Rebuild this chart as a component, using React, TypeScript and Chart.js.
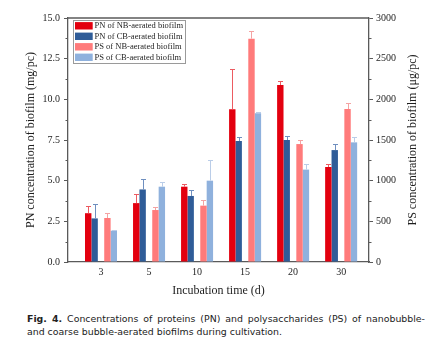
import React, { useEffect, useRef } from 'react';
import { Chart, registerables } from 'chart.js';

Chart.register(...registerables);

// ---- data ----
const categories = ['3', '5', '10', '15', '20', '30'];
const pnNB = [3.0, 3.62, 4.63, 9.39, 10.88, 5.84];
const pnNBErr = [0.42, 0.54, 0.17, 2.47, 0.25, 0.16];
const pnCB = [2.68, 4.46, 4.06, 7.44, 7.5, 6.88];
const pnCBErr = [0.91, 0.62, 0.37, 0.27, 0.27, 0.35];
const psNB = [541, 639, 693, 2746, 1450, 1880];
const psNBErr = [66, 41, 73, 90, 54, 70];
const psCB = [385, 926, 1000, 1828, 1136, 1471];
const psCBErr = [6, 62, 250, 16, 65, 70];
const seriesLabels = [
  'PN of NB-aerated biofilm',
  'PN of CB-aerated biofilm',
  'PS of NB-aerated biofilm',
  'PS of CB-aerated biofilm',
];
const leftTicks = [0, 2.5, 5, 7.5, 10, 12.5, 15];
const rightTicks = [0, 500, 1000, 1500, 2000, 2500, 3000];

const W = 443;
const H = 300;
const SERIF = "'Liberation Serif', 'Times New Roman', serif";
const AXIS = '#5a5a5a';
const TEXT = '#1e1e1e';

export default function App() {
  const ref = useRef<HTMLCanvasElement>(null);

  useEffect(() => {
    const canvas = ref.current;
    if (!canvas) return;

    const series = [
      { label: seriesLabels[0], values: pnNB, err: pnNBErr, axis: 'y', color: '#E3000F', errColor: '#EC5B61' },
      { label: seriesLabels[1], values: pnCB, err: pnCBErr, axis: 'y', color: '#2F5C98', errColor: '#6F8FBF' },
      { label: '', values: categories.map(() => null as any), err: null, axis: 'y', color: 'rgba(0,0,0,0)', errColor: '' },
      { label: seriesLabels[2], values: psNB, err: psNBErr, axis: 'y2', color: '#FF7B7B', errColor: '#F4A3A3' },
      { label: seriesLabels[3], values: psCB, err: psCBErr, axis: 'y2', color: '#8FB1DD', errColor: '#BACDE8' },
    ];

    const errorPlugin = {
      id: 'errorBars',
      afterDatasetsDraw(chart: any) {
        const c = chart.ctx;
        c.save();
        series.forEach((s, di) => {
          if (!s.err) return;
          const meta = chart.getDatasetMeta(di);
          const sc = chart.scales[s.axis];
          meta.data.forEach((bar: any, i: number) => {
            const v = s.values[i];
            const e = s.err![i];
            const x = Math.round(bar.x) + 0.5;
            const y0 = sc.getPixelForValue(v);
            const y1 = Math.round(sc.getPixelForValue(v + e)) + 0.5;
            c.strokeStyle = s.errColor;
            c.lineWidth = 1;
            c.beginPath();
            c.moveTo(x, y0);
            c.lineTo(x, y1);
            c.moveTo(x - 2.5, y1);
            c.lineTo(x + 2.5, y1);
            c.stroke();
          });
        });
        c.restore();
      },
    };

    const framePlugin = {
      id: 'frame',
      afterDraw(chart: any) {
        const c = chart.ctx;
        const a = chart.chartArea;
        c.save();
        c.strokeStyle = AXIS;
        c.lineWidth = 1.3;
        c.beginPath();
        c.moveTo(a.left, a.top);
        c.lineTo(a.right, a.top);
        c.stroke();
        // minor ticks
        c.lineWidth = 1;
        const ly = chart.scales.y;
        const ry = chart.scales.y2;
        for (let v = 1.25; v < 15; v += 2.5) {
          const y = Math.round(ly.getPixelForValue(v)) + 0.5;
          c.beginPath();
          c.moveTo(a.left - 2.5, y);
          c.lineTo(a.left, y);
          c.stroke();
        }
        for (let v = 250; v < 3000; v += 500) {
          const y = Math.round(ry.getPixelForValue(v)) + 0.5;
          c.beginPath();
          c.moveTo(a.right, y);
          c.lineTo(a.right + 2.5, y);
          c.stroke();
        }
        // right axis title, reading bottom-to-top like the left one
        c.save();
        c.translate(413, (a.top + a.bottom) / 2);
        c.rotate(-Math.PI / 2);
        c.font = `12px ${SERIF}`;
        c.fillStyle = TEXT;
        c.textAlign = 'center';
        c.textBaseline = 'middle';
        c.fillText('PS concentration of biofilm (\u03BCg/pc)', 0, 0);
        c.restore();
        // legend box
        const bx = 73.5, by = 20.5, bw = 112, bh = 43;
        c.fillStyle = '#ffffff';
        c.fillRect(bx, by, bw, bh);
        c.strokeStyle = '#9a9a9a';
        c.lineWidth = 1;
        c.strokeRect(bx, by, bw, bh);
        const items = series.filter((s) => s.label);
        c.font = `8.5px ${SERIF}`;
        c.textBaseline = 'middle';
        c.textAlign = 'left';
        items.forEach((s, i) => {
          const cy = 25.8 + i * 10.5;
          c.fillStyle = s.color;
          c.fillRect(75, cy - 3.7, 17.7, 7.4);
          c.fillStyle = TEXT;
          c.fillText(s.label, 94.5, cy + 0.3);
        });
        c.restore();
      },
    };

    const tickFont = { family: SERIF, size: 10 };
    const titleFont = { family: SERIF, size: 12 };

    const chart = new Chart(canvas, {
      type: 'bar',
      data: {
        datasets: series.map((s) => ({
          label: s.label,
          data: s.values.map((y, i) => ({ x: i, y })),
          backgroundColor: s.color,
          borderWidth: 0,
          yAxisID: s.axis,
          categoryPercentage: 32 / 48,
          barPercentage: 1,
        })),
      },
      options: {
        animation: false,
        responsive: false,
        maintainAspectRatio: false,
        layout: { padding: { top: 18, left: 0, right: 0, bottom: 0 } },
        plugins: { legend: { display: false }, tooltip: { enabled: false } },
        scales: {
          x: {
            type: 'linear',
            offset: false,
            min: -0.6875,
            max: 5.58,
            afterBuildTicks: (s: any) => {
              s.ticks = categories.map((_, i) => ({ value: i }));
            },
            afterFit: (s: any) => {
              s.height = H - 262;
            },
            ticks: {
              callback: (v: any) => categories[v] ?? '',
              font: tickFont,
              color: TEXT,
              padding: 4,
              autoSkip: false,
              maxRotation: 0,
            },
            grid: { display: true, offset: false, drawOnChartArea: false, drawTicks: false },
            border: { color: AXIS, width: 1.3 },
            title: {
              display: true,
              text: 'Incubation time (d)',
              font: titleFont,
              color: TEXT,
              padding: { top: 0, bottom: 2 },
            },
          },
          y: {
            type: 'linear',
            position: 'left',
            min: 0,
            max: 15,
            afterBuildTicks: (s: any) => {
              s.ticks = leftTicks.map((v) => ({ value: v }));
            },
            afterFit: (s: any) => {
              s.width = 68;
            },
            ticks: {
              callback: (v: any) => Number(v).toFixed(1),
              font: tickFont,
              color: TEXT,
              padding: 4,
            },
            grid: { display: true, drawOnChartArea: false, drawTicks: true, tickLength: 4, tickColor: AXIS, tickWidth: 1 },
            border: { color: AXIS, width: 1.3 },
            title: {
              display: true,
              text: 'PN concentration of biofilm (mg/pc)',
              font: titleFont,
              color: TEXT,
              padding: { top: 24, bottom: 0 },
            },
          },
          y2: {
            type: 'linear',
            position: 'right',
            min: 0,
            max: 3000,
            afterBuildTicks: (s: any) => {
              s.ticks = rightTicks.map((v) => ({ value: v }));
            },
            afterFit: (s: any) => {
              s.width = W - 369;
            },
            ticks: {
              callback: (v: any) => String(v),
              font: tickFont,
              color: TEXT,
              padding: 3,
            },
            grid: { display: true, drawOnChartArea: false, drawTicks: true, tickLength: 4, tickColor: AXIS, tickWidth: 1 },
            border: { color: AXIS, width: 1.3 },
            title: { display: false },
          },
        },
      } as any,
      plugins: [errorPlugin, framePlugin],
    });

    return () => chart.destroy();
  }, []);

  const capStyle: React.CSSProperties = {
    fontFamily: "'DejaVu Sans', sans-serif",
    fontSize: 9.4,
    lineHeight: '13.5px',
    color: '#222',
    whiteSpace: 'nowrap',
  };

  return (
    <div style={{ position: 'absolute', left: 0, top: 0, width: W, height: 351, background: '#fff' }}>
      <canvas ref={ref} width={W} height={H} style={{ display: 'block', width: W, height: H }} />
      <div style={{ position: 'absolute', left: 27, top: 311.5, width: 398 }}>
        <div style={{ ...capStyle, textAlign: 'justify', textAlignLast: 'justify' }}>
          <b>Fig. 4.</b> Concentrations of proteins (PN) and polysaccharides (PS) of nanobubble-
        </div>
        <div style={capStyle}>and coarse bubble-aerated biofilms during cultivation.</div>
      </div>
    </div>
  );
}
